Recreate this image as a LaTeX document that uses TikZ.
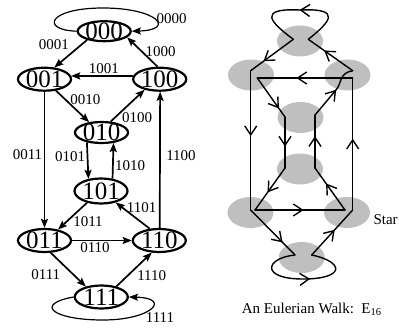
\documentclass[tikz,border=0pt]{standalone}
\usepackage{fontspec}
\setmainfont{Liberation Serif}
\usetikzlibrary{shapes.geometric,arrows.meta,decorations.markings}
\begin{document}
\begin{tikzpicture}[x=1pt,y=1pt,
  nd/.style={ellipse,draw,line width=2.2pt,inner xsep=0pt,inner ysep=-2pt,text height=16.5pt,text depth=0pt,minimum width=53pt,minimum height=#1,font=\fontsize{25}{30}\selectfont},
  nd/.default=23pt,
  lbl/.style={font=\fontsize{15}{18}\selectfont,inner sep=0pt},
  ed/.style={line width=1.7pt,-{Stealth[length=9pt,width=7pt,inset=1.5pt]}},
  lp/.style={line width=1.2pt,-{Stealth[length=9pt,width=7pt,inset=1.5pt]}},
  gnode/.style={ellipse,fill=gray!50,minimum width=46pt,minimum height=31pt,inner sep=0pt},
  walk/.style={line width=1.4pt,line cap=round,line join=round},
  midv/.style={postaction={decorate},decoration={markings,mark=at position #1 with {\arrow{Straight Barb[length=9pt,width=12pt]}}}},
  midv/.default=0.5
]
\useasboundingbox (0,0) rectangle (399,-329);

% ---------- left: de Bruijn graph ----------
\node[nd=20pt] (n000) at (104.2,-31.2) {000};
\node[nd] (n001) at (44.5,-79.2) {001};
\node[nd] (n100) at (159.7,-79.2) {100};
\node[nd=21pt] (n010) at (101.5,-132.5) {010};
\node[nd=25pt] (n101) at (101,-191) {101};
\node[nd] (n011) at (44.5,-240.5) {011};
\node[nd] (n110) at (159.3,-240.5) {110};
\node[nd] (n111) at (101.3,-297) {111};

\draw[lp] (n000.180) .. controls (40,-30) and (48,-8) .. (103,-8) .. controls (158,-8) and (176,-30) .. (n000.0);
\draw[ed] (n000.207) -- (n001.50);
\draw[ed] (n100.100) -- (n000.-15);
\draw[ed] (n100.173) -- (n001.7);
\draw[ed] (n001.-45) -- (n010.140);
\draw[ed] (n010.50) -- (n100.215);
\draw[ed] (n001.south) -- (n011.north);
\draw[ed] (n010.214) -- (n101.136);
\draw[ed] (n101.47) -- (n010.-41);
\draw[ed] (n110.88) -- (n100.-88);
\draw[ed] (n110.129) -- (n101.-38);
\draw[ed] (n101.220) -- (n011.39.5);
\draw[ed] (n011.east) -- (n110.west);
\draw[ed] (n011.-63.7) -- (n111.146);
\draw[ed] (n111.35) -- (n110.238);
\draw[lp] (n111.180) .. controls (34,-304) and (52,-320) .. (103,-320) .. controls (152,-320) and (172,-298) .. (n111.0);

\node[lbl] (l0000) at (171.7,-18.3) {0000};
\node[lbl] (l0001) at (53.8,-45) {0001};
\node[lbl] (l1000) at (160.5,-52) {1000};
\node[lbl] (l1001) at (103.8,-68.7) {1001};
\node[lbl] (l0010) at (85.3,-99.3) {0010};
\node[lbl] (l0100) at (137.2,-117.2) {0100};
\node[lbl] (l0011) at (27.5,-154.2) {0011};
\node[lbl] (l0101) at (70,-156.4) {0101};
\node[lbl] (l1010) at (130,-166) {1010};
\node[lbl] (l1100) at (181,-155.3) {1100};
\node[lbl] (l1101) at (141.7,-207.5) {1101};
\node[lbl] (l1011) at (88,-221.3) {1011};
\node[lbl] (l0110) at (95,-248) {0110};
\node[lbl] (l0111) at (45.8,-274.2) {0111};
\node[lbl] (l1110) at (151.7,-275.3) {1110};
\node[lbl] (l1111) at (160,-317.5) {1111};

% ---------- right: Eulerian walk ----------
\node[gnode] (T) at (300,-41) {};
\node[gnode] (L) at (251,-75) {};
\node[gnode] (R) at (347.5,-75) {};
\node[gnode] (MU) at (300.5,-117.5) {};
\node[gnode] (ML) at (300,-169) {};
\node[gnode] (LL) at (250.5,-212.5) {};
\node[gnode] (RR) at (347,-212.5) {};
\node[gnode] (B) at (301.7,-257.5) {};

\coordinate (t1) at (293.3,-39.3);
\coordinate (t2) at (308.3,-39.3);
\coordinate (a1) at (250.7,-70.7);
\coordinate (r1) at (352.7,-70.7);
\coordinate (a2) at (257.3,-78);
\coordinate (r2) at (352.7,-78);
\coordinate (m1) at (285,-117);
\coordinate (m2) at (315,-115);
\coordinate (k1) at (285,-168);
\coordinate (k2) at (315,-168);
\coordinate (d1) at (250.7,-210);
\coordinate (d2) at (255,-210);
\coordinate (e2) at (345,-210);
\coordinate (e1) at (352.7,-210);
\coordinate (b1) at (295,-255);
\coordinate (b2) at (311.7,-255);
\coordinate (bend) at (336,-90);

\draw[walk,midv=0.5] (t2) .. controls (330,-22) and (343,-8) .. (300,-10) .. controls (257,-8) and (270,-22) .. (t1);
\draw[walk,midv=0.7] (t1) -- (a1);
\draw[walk,midv=0.47] (a1) -- (d1);
\draw[walk,midv=0.72] (d1) -- (b1);
\draw[walk,midv=0.55] (b1) .. controls (265,-258) and (260,-279) .. (303,-279) .. controls (345,-279) and (345,-262) .. (b2);
\draw[walk,midv=0.56] (b2) -- (e1);
\draw[walk,midv=0.54] (e1) -- (r2);
\draw[walk,midv=0.59] (r2) -- (a2);
\draw[walk,midv=0.78] (a2) -- (m1);
\draw[walk,midv=0.58] (m1) -- (k1);
\draw[walk,midv=0.58] (k1) -- (d2);
\draw[walk,midv=0.54] (d2) -- (e2);
\draw[walk,midv=0.63] (e2) -- (k2);
\draw[walk,midv=0.6] (k2) -- (m2);
\draw[walk,midv=0.55] (m2) -- (bend) .. controls (342,-83) and (339,-73) .. (r1);
\draw[walk,midv=0.64] (r1) -- (t2);

\node[lbl,anchor=base west] (star) at (373.3,-224.5) {Star};
\node[lbl,anchor=base west] (cap) at (241.7,-313) {An Eulerian Walk:\ \ E\textsubscript{16}};
\end{tikzpicture}
\end{document}
